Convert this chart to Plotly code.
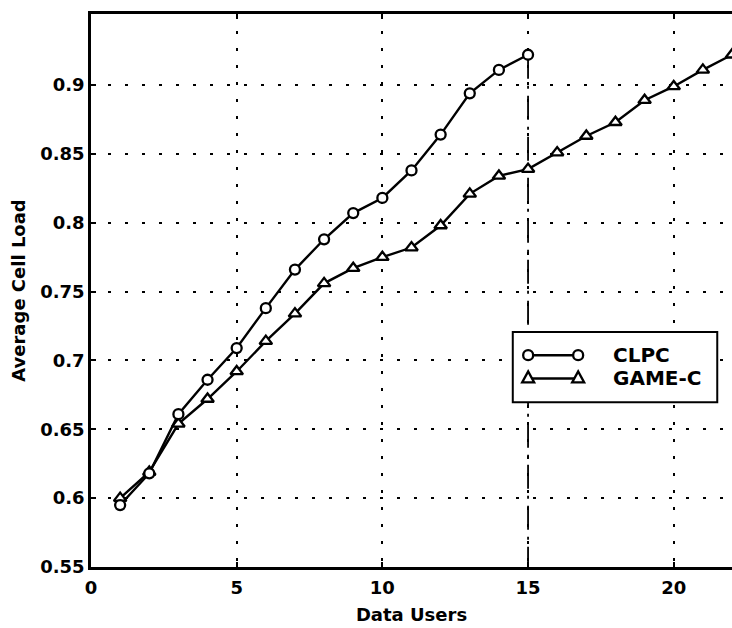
import plotly.graph_objects as go

# Average cell load versus number of data users
users_clpc = list(range(1, 16))
load_clpc = [0.595, 0.618, 0.661, 0.686, 0.709, 0.738, 0.766, 0.788, 0.807, 0.818,
             0.838, 0.864, 0.894, 0.911, 0.922]

users_game = list(range(1, 23))
load_game = [0.600, 0.619, 0.654, 0.672, 0.692, 0.714, 0.734, 0.756, 0.767, 0.775,
             0.782, 0.798, 0.821, 0.834, 0.839, 0.851, 0.863, 0.873, 0.889, 0.899,
             0.911, 0.922]

series_names = ["CLPC", "GAME-C"]
x_ticks = [0, 5, 10, 15, 20]
y_ticks = [0.55, 0.6, 0.65, 0.7, 0.75, 0.8, 0.85, 0.9]
y_floor = 0.55

FONT = dict(family="DejaVu Sans", size=18, color="black", weight="bold")
LINE_W = 2.4

fig = go.Figure()

# dash-dot marker at the CLPC capacity limit
fig.add_trace(go.Scatter(
    x=[users_clpc[-1], users_clpc[-1]], y=[load_clpc[-1], y_floor],
    mode="lines", line=dict(color="black", width=1.8, dash="24px,7px,3px,7px"),
    showlegend=False, hoverinfo="skip"))

fig.add_trace(go.Scatter(
    x=users_game, y=load_game, mode="lines+markers", name=series_names[1],
    line=dict(color="black", width=LINE_W),
    marker=dict(symbol="triangle-up", size=11, color="white",
                line=dict(color="black", width=2.3)),
    showlegend=False))

fig.add_trace(go.Scatter(
    x=users_clpc, y=load_clpc, mode="lines+markers", name=series_names[0],
    line=dict(color="black", width=LINE_W),
    marker=dict(symbol="circle", size=10, color="white",
                line=dict(color="black", width=2.3)),
    showlegend=False))

axis_common = dict(
    showline=True, linecolor="black", linewidth=2.5,
    ticks="inside", ticklen=5, tickwidth=1.5, tickcolor="black",
    showgrid=True, gridcolor="black", gridwidth=1.6, griddash="3px,14px",
    zeroline=False, tickfont=FONT,
)

fig.update_xaxes(range=[0, 22], tickvals=x_ticks, ticktext=[str(v) for v in x_ticks],
                 mirror="ticks", ticklabelstandoff=3,
                 title=dict(text="Data Users", font=FONT, standoff=12),
                 **axis_common)
fig.update_yaxes(range=[0.55, 0.9516], tickvals=y_ticks,
                 ticktext=["0.55", "0.6", "0.65", "0.7", "0.75", "0.8", "0.85", "0.9"],
                 mirror=False,
                 title=dict(text="Average Cell Load", font=FONT, standoff=10),
                 **axis_common)

# legend box drawn in paper coordinates
lx0, lx1, ly0, ly1 = 0.658, 0.977, 0.298, 0.425
fig.add_shape(type="rect", xref="paper", yref="paper", x0=lx0, x1=lx1, y0=ly0, y1=ly1,
              line=dict(color="black", width=2), fillcolor="white", layer="above")
rows = [(0.383, "circle"), (0.341, "triangle")]
sx0, sx1 = 0.682, 0.760
for (ry, kind), label in zip(rows, series_names):
    fig.add_shape(type="line", xref="paper", yref="paper", x0=sx0, x1=sx1, y0=ry, y1=ry,
                  line=dict(color="black", width=LINE_W), layer="above")
    for sx in (sx0, sx1):
        if kind == "circle":
            fig.add_shape(type="circle", xref="paper", yref="paper",
                          xsizemode="pixel", ysizemode="pixel", xanchor=sx, yanchor=ry,
                          x0=-5, x1=5, y0=-5, y1=5,
                          line=dict(color="black", width=2.3), fillcolor="white", layer="above")
        else:
            fig.add_shape(type="path", xref="paper", yref="paper",
                          xsizemode="pixel", ysizemode="pixel", xanchor=sx, yanchor=ry,
                          path="M -6,-4 L 6,-4 L 0,7 Z",
                          line=dict(color="black", width=2.3), fillcolor="white", layer="above")
    fig.add_annotation(xref="paper", yref="paper", x=0.811, y=ry, text=label,
                       showarrow=False, xanchor="left", yanchor="middle",
                       font=dict(family="DejaVu Sans", size=20, color="black", weight="bold"))

fig.update_layout(
    width=732, height=628,
    margin=dict(l=91, r=0, t=14, b=61),
    plot_bgcolor="white", paper_bgcolor="white",
    font=FONT,
)

fig.write_html("out.html")
